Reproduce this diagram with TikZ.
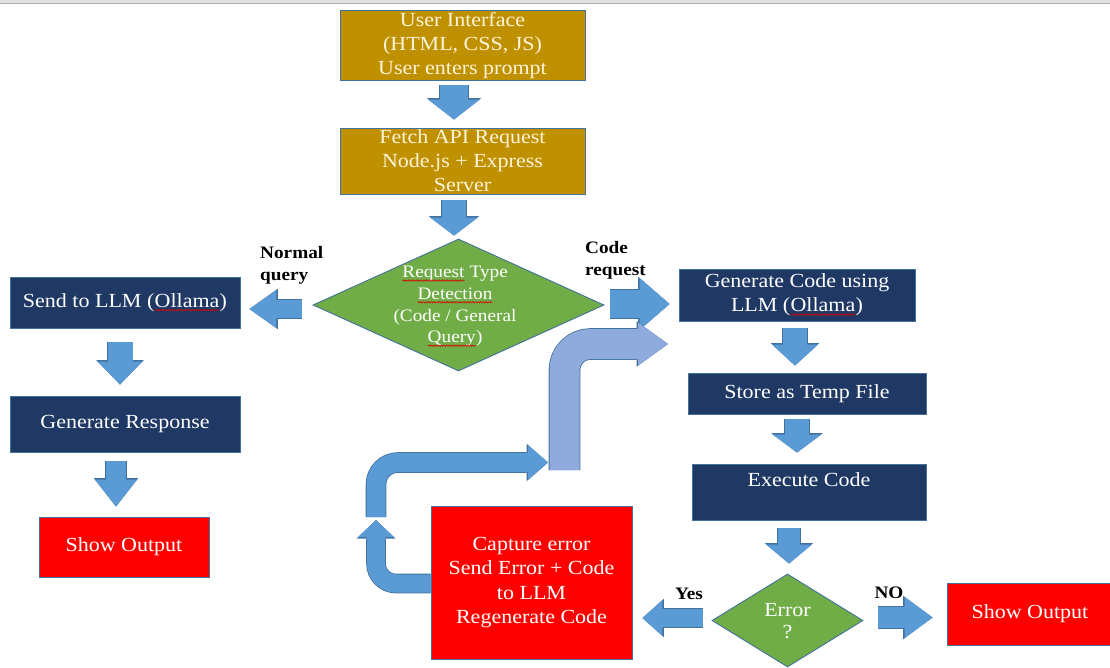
\documentclass[tikz,border=0pt]{standalone}
\usepackage{fontspec}
\setmainfont{Liberation Serif}[FakeStretch=1.1]
\usetikzlibrary{arrows.meta,shapes.geometric,calc,decorations.pathmorphing}
\definecolor{gold}{HTML}{BF9000}
\definecolor{navy}{HTML}{1F3864}
\definecolor{grn}{HTML}{70AD47}
\definecolor{abl}{HTML}{5B9BD5}
\definecolor{lbl}{HTML}{8FAADC}
\definecolor{bdr}{HTML}{41719C}
\definecolor{cream}{HTML}{FFF4D9}
\newcommand\sq[1]{\tikz[baseline=(sqw.base)]{\node[rectangle, draw=none, fill=none, inner sep=0pt, outer sep=0pt, minimum width=0pt, minimum height=0pt, text width=, align=none] (sqw) {#1};\draw[red!85!black, line width=0.6pt, decorate, decoration={snake, amplitude=0.7pt, segment length=2.6pt}] ([yshift=-2.8pt]sqw.base west) -- ([yshift=-2.8pt]sqw.base east);}}
\begin{document}
\begin{tikzpicture}[x=1pt,y=-1pt,
  box/.style={rectangle, draw=bdr, line width=0.9pt, inner sep=2pt, align=center, font=\fontsize{20}{24}\selectfont, text=white},
  goldbox/.style={box, fill=gold, text=cream},
  navybox/.style={box, fill=navy},
  redbox/.style={box, fill=red},
  dia/.style={diamond, draw=bdr, line width=0.9pt, fill=grn, inner sep=0pt},
  dtext/.style={align=center, inner sep=0pt, text=white, font=\fontsize{17.5}{21.7}\selectfont},
  lab/.style={font=\bfseries\fontsize{17.5}{22}\selectfont, align=left, inner sep=0pt, text=black},
  blkc/.code n args={4}{%
    \pgfmathsetmacro\blkbw{#2+1.6}\pgfmathsetmacro\blkhw{#3+2.6}\pgfmathsetmacro\blkhl{#4+1.5}%
    \edef\blktmp{\noexpand\tikzset{preaction={draw=bdr,line width=\blkbw pt,-{Triangle[width=\blkhw pt,length=\blkhl pt,line width=0pt]}}}}\blktmp
    \tikzset{draw=#1, line width=#2pt, -{Triangle[width=#3pt,length=#4pt,line width=0pt]}}},
  blk/.style n args={3}{blkc={abl}{#1}{#2}{#3}},
  blkl/.style n args={3}{blkc={lbl}{#1}{#2}{#3}}
]
\useasboundingbox (0,0) rectangle (1110,668);
\fill[black!12] (0,0) rectangle (1110,3);
\draw[black!30, line width=0.8pt] (0,3) -- (1110,3);

% nodes
\node[goldbox, minimum width=245pt, minimum height=67pt] (ui) at (462.5,45.5) {User Interface\\(HTML, CSS, JS)\\User enters prompt};
\node[goldbox, minimum width=245pt, minimum height=66pt] (fetch) at (462.5,161) {Fetch API Request\\Node.js + Express\\Server};
\node[dia, minimum width=291pt, minimum height=132pt] (req) at (458.5,305) {};
\node[dtext] (reqtxt) at (455,306.5) {\sq{Request} Type\\\sq{Detection}\\(Code / General\\\sq{Query})};
\node[navybox, minimum width=230pt, minimum height=51pt] (send) at (125,302.5) {Send to LLM (\sq{Ollama})};
\node[navybox, minimum width=230pt, minimum height=56pt] (genresp) at (125,424) {Generate Response};
\node[redbox, minimum width=170pt, minimum height=60pt] (show1) at (124,547) {Show Output};
\node[navybox, minimum width=236pt, minimum height=52pt] (gen) at (797,295) {Generate Code using\\LLM (\sq{Ollama})};
\node[navybox, minimum width=238pt, minimum height=41pt] (store) at (807,393.5) {Store as Temp File};
\node[navybox, minimum width=234pt, minimum height=56pt] (exec) at (809,492) {Execute Code\\\mbox{}};
\node[dia, minimum width=151pt, minimum height=93pt] (err) at (787.5,620.5) {};
\node[dtext, font=\fontsize{20}{22}\selectfont] (errtxt) at (787.5,621) {Error\\?};
\node[redbox, minimum width=166pt, minimum height=62pt] (show2) at (1030,614) {Show Output};
\node[redbox, minimum width=201pt, minimum height=153pt, font=\fontsize{20}{24.5}\selectfont] (capture) at (531.5,582.5) {Capture error\\Send Error + Code\\to LLM\\Regenerate Code};

% labels
\node[lab, anchor=west] (lnormal) at (260,265) {Normal\\query};
\node[lab, anchor=west] (lcode) at (585,260) {Code\\request};
\node[lab] (lyes) at (689,594) {Yes};
\node[lab] (lno) at (889,593) {NO};

% straight block arrows
\draw[blk={28}{52}{20}] ($(ui.south)+(-8.5,4)$) -- ($(fetch.north)+(-8.5,-8)$);
\draw[blk={24}{48}{18}] ($(fetch.south)+(-8.5,6)$) -- ($(fetch.south |- req.north)+(-8.5,-3)$);
\draw[blk={18}{38}{27}] ($(req.west)+(-11,4)$) -- ($(send.east |- req.west)+(9,4)$);
\draw[blk={28}{52}{30}] ($(req.east)+(6,-1)$) -- ($(gen.west |- req.east)+(-9,-1)$);
\draw[blk={25}{45}{23}] ($(send.south)+(-5,14)$) -- ($(genresp.north)+(-5,-11)$);
\draw[blk={20}{42}{27}] ($(genresp.south)+(-9,9)$) -- ($(genresp.south |- show1.north)+(-9,-10)$);
\draw[blk={24}{46}{21}] ($(gen.south)+(-2,7)$) -- ($(gen.south |- store.north)+(-2,-7)$);
\draw[blk={24}{49}{18}] ($(store.south)+(-10,5)$) -- ($(store.south |- exec.north)+(-10,-11)$);
\draw[blk={22}{46}{19}] ($(exec.south -| err.north)+(1.5,8)$) -- ($(err.north)+(1.5,-10)$);
\draw[blk={18}{36}{20}] ($(err.west)+(-9,-2.5)$) -- ($(capture.east |- err.west)+(10,-2.5)$);
\draw[blk={21}{41}{28}] ($(err.east)+(15,-3)$) -- ($(show2.west |- err.east)+(-14,-3)$);

% loop-back bent arrows
\coordinate (a1) at (376,520);
\draw[blk={18}{36}{17}, rounded corners=20pt] ($(capture.west)+(0,1)$) -| (a1);
\coordinate (b0) at (376,517);
\coordinate (b1) at (548,462.5);
\draw[blk={19}{35}{20}, rounded corners=22pt] (b0) |- (b1);
\coordinate (c0) at (564.5,470);
\coordinate (c1) at (668,344);
\draw[blkl={30}{43}{30}, rounded corners=26pt] (c0) |- (c1);
\end{tikzpicture}
\end{document}
